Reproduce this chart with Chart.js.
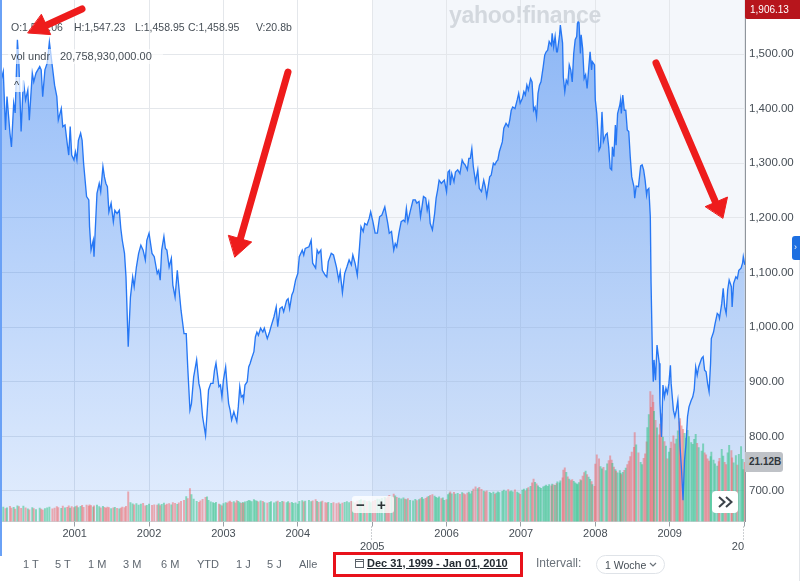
<!DOCTYPE html>
<html><head><meta charset="utf-8">
<script src="https://cdn.jsdelivr.net/npm/chart.js@4.4.1/dist/chart.umd.min.js"></script>
<style>
html,body{margin:0;padding:0;background:#fff;}
#wrap{position:relative;width:800px;height:581px;overflow:hidden;font-family:"Liberation Sans",Arial,sans-serif;}
#c{position:absolute;left:0;top:0;width:800px;height:581px;}
.t{position:absolute;white-space:nowrap;line-height:1;}
.hd{font-size:10.5px;color:#464e56;top:21.6px;}
.bt{font-size:11px;color:#5f6770;top:558.6px;}
</style></head><body>
<div id="wrap">
<canvas id="c" width="800" height="581"></canvas>

<div class="t" style="left:449px;top:4px;font-size:23px;font-weight:bold;color:#d3d8de;letter-spacing:-0.3px;">yahoo!finance</div>

<div class="t hd" style="left:11px;">O:1,527.06</div>
<div class="t hd" style="left:74px;">H:1,547.23</div>
<div class="t hd" style="left:135px;">L:1,458.95</div>
<div class="t hd" style="left:188px;">C:1,458.95</div>
<div class="t hd" style="left:256px;">V:20.8b</div>
<div class="t" style="left:8px;top:49px;width:155px;height:15px;background:rgba(255,255,255,0.62);"></div>
<div class="t" style="left:11px;top:51.3px;font-size:11px;color:#464e56;">vol undr</div>
<div class="t" style="left:60px;top:51.3px;font-size:11px;color:#464e56;">20,758,930,000.00</div>
<div class="t" style="left:11px;top:77px;width:13px;height:15px;background:rgba(255,255,255,0.75);border-radius:2px;"></div>
<div class="t" style="left:14px;top:80px;font-size:11px;color:#3a4148;">^</div>

<div class="t" style="left:745px;top:0;width:55px;height:19px;background:#b7151c;border-radius:0 0 0 2px;"></div>
<div class="t" style="left:750px;top:5px;font-size:10px;color:#fff;">1,906.13</div>
<div class="t" style="left:745px;top:452px;width:38px;height:20px;background:#bfc2c7;border-radius:0 3px 3px 0;"></div>
<div class="t" style="left:749px;top:457px;font-size:10px;font-weight:bold;color:#30363c;">21.12B</div>
<div class="t" style="left:792px;top:236px;width:8px;height:24px;background:#1d6fe1;border-radius:3px 0 0 3px;"></div>
<div class="t" style="left:794px;top:243px;font-size:9px;color:#fff;">›</div>
<div class="t" style="left:799px;top:260px;width:1px;height:321px;background:#e3e6ea;"></div>
<div class="t" style="left:0;top:0;width:1.5px;height:556px;background:#6aa1f6;"></div>

<div class="t" style="left:352px;top:496px;width:42px;height:17px;background:rgba(255,255,255,0.78);border-radius:3px;"></div>
<div class="t" style="left:356px;top:497px;font-size:15px;font-weight:bold;color:#2c3135;">−</div>
<div class="t" style="left:377px;top:497px;font-size:15px;font-weight:bold;color:#2c3135;">+</div>
<div class="t" style="left:712px;top:491px;width:26px;height:22px;background:#fff;border-radius:4px;"></div>

<div class="t bt" style="left:23px;">1 T</div>
<div class="t bt" style="left:55px;">5 T</div>
<div class="t bt" style="left:88px;">1 M</div>
<div class="t bt" style="left:123px;">3 M</div>
<div class="t bt" style="left:161px;">6 M</div>
<div class="t bt" style="left:197px;">YTD</div>
<div class="t bt" style="left:236px;">1 J</div>
<div class="t bt" style="left:267px;">5 J</div>
<div class="t bt" style="left:299px;">Alle</div>
<div class="t" style="left:367px;top:557.6px;font-size:11px;font-weight:bold;color:#232a31;text-decoration:underline;">Dec 31, 1999 - Jan 01, 2010</div>
<div class="t" style="left:333px;top:552px;width:190px;height:25px;border:3px solid #e8121b;box-sizing:border-box;"></div>
<div class="t" style="left:536px;top:557.1px;font-size:12px;color:#6a727a;">Intervall:</div>
<div class="t" style="left:596px;top:555px;width:69px;height:19px;border:1px solid #dfe3e8;border-radius:10px;box-sizing:border-box;"></div>
<div class="t" style="left:605px;top:559.9px;font-size:10.5px;color:#464e56;">1 Woche</div>

<svg width="800" height="581" style="position:absolute;left:0;top:0;pointer-events:none;">
  <polyline points="719,497 724.5,502 719,507" fill="none" stroke="#3c434a" stroke-width="2"/>
  <polyline points="726,497 731.5,502 726,507" fill="none" stroke="#3c434a" stroke-width="2"/>
  <rect x="355.5" y="559.5" width="8" height="8" fill="none" stroke="#5b636a" stroke-width="1"/>
  <line x1="355.5" y1="561.5" x2="363.5" y2="561.5" stroke="#5b636a" stroke-width="1"/>
  <polyline points="650,563 653,566 656,563" fill="none" stroke="#6a727a" stroke-width="1.2"/>
  <g stroke="#ee1c1c" stroke-width="7" stroke-linecap="round" fill="#ee1c1c">
    <line x1="82" y1="9" x2="47" y2="25"/>
    <polygon stroke-width="1" stroke-linejoin="round" points="28,33 50.7,34.6 41.5,14.6"/>
    <line x1="288" y1="72" x2="240" y2="240"/>
    <polygon stroke-width="1" stroke-linejoin="round" points="235,257 251.7,242 228.7,235.4"/>
    <line x1="656" y1="63" x2="715" y2="201"/>
    <polygon stroke-width="1" stroke-linejoin="round" points="723,218 727.5,197 705.5,206.5"/>
  </g>
</svg>
</div>
<script>
// ---- data (weekly S&P 500 closes) ----
const dates = [
2000.00,2000.04,2000.07,2000.09,2000.13,2000.15,2000.18,2000.20,2000.23,2000.25,2000.28,2000.31,2000.34,2000.37,2000.39,2000.43,2000.45,2000.48,2000.53,2000.55,2000.57,2000.60,2000.63,2000.66,2000.70,2000.73,2000.76,2000.78,2000.82,2000.84,2000.87,2000.90,2000.92,2000.94,2000.96,2000.99,
2001.01,2001.03,2001.05,2001.08,2001.10,2001.12,2001.16,2001.19,2001.20,2001.22,2001.25,2001.26,2001.30,2001.33,2001.35,2001.38,2001.40,2001.42,2001.44,2001.46,2001.49,2001.52,2001.54,2001.57,2001.60,2001.62,2001.64,2001.67,2001.69,2001.72,2001.75,2001.78,2001.80,2001.83,2001.86,2001.89,2001.92,2001.95,2001.97,
2002.00,2002.04,2002.07,2002.11,2002.13,2002.15,2002.17,2002.20,2002.22,2002.24,2002.27,2002.30,2002.32,2002.35,2002.38,2002.40,2002.43,2002.47,2002.50,2002.52,2002.55,2002.57,2002.60,2002.64,2002.67,2002.69,2002.72,2002.76,2002.78,2002.80,2002.83,2002.86,2002.88,2002.90,2002.94,2002.96,2002.98,
2003.00,2003.03,2003.05,2003.07,2003.09,2003.11,2003.14,2003.16,2003.18,2003.20,2003.22,2003.24,2003.26,2003.27,2003.29,2003.32,2003.34,2003.36,2003.38,2003.41,2003.43,2003.45,2003.47,2003.50,2003.53,2003.55,2003.59,2003.62,2003.64,2003.68,2003.71,2003.73,2003.76,2003.79,2003.81,2003.85,2003.87,2003.89,2003.92,2003.94,2003.97,2004.00,
2004.02,2004.06,2004.08,2004.10,2004.15,2004.18,2004.20,2004.24,2004.26,2004.28,2004.31,2004.33,2004.37,2004.39,2004.41,2004.45,2004.48,2004.52,2004.55,2004.57,2004.60,2004.63,2004.66,2004.69,2004.72,2004.74,2004.77,2004.80,2004.83,2004.85,2004.88,2004.90,2004.93,2004.96,2004.98,
2005.01,2005.04,2005.07,2005.10,2005.13,2005.17,2005.19,2005.21,2005.23,2005.26,2005.29,2005.31,2005.33,2005.36,2005.39,2005.42,2005.44,2005.46,2005.48,2005.51,2005.55,2005.58,2005.60,2005.63,2005.65,2005.67,2005.69,2005.72,2005.74,2005.76,2005.78,2005.81,2005.84,2005.86,2005.88,2005.90,2005.93,2005.95,2005.97,2006.00,
2006.02,2006.04,2006.05,2006.07,2006.10,2006.12,2006.15,2006.18,2006.21,2006.23,2006.25,2006.28,2006.30,2006.32,2006.34,2006.36,2006.39,2006.42,2006.44,2006.47,2006.50,2006.52,2006.54,2006.58,2006.60,2006.63,2006.65,2006.67,2006.69,2006.71,2006.75,2006.77,2006.80,2006.83,2006.85,2006.87,2006.89,2006.92,2006.95,2006.97,2006.99,
2007.02,2007.04,2007.06,2007.08,2007.10,2007.13,2007.15,2007.17,2007.19,2007.21,2007.23,2007.25,2007.27,2007.30,2007.32,2007.34,2007.36,2007.38,2007.41,2007.42,2007.44,2007.46,2007.48,2007.49,2007.52,2007.53,2007.56,2007.57,2007.59,2007.61,2007.63,2007.65,2007.67,2007.69,2007.71,2007.73,2007.75,2007.76,2007.78,2007.80,2007.81,2007.83,2007.85,2007.87,2007.89,2007.91,2007.93,2007.95,2007.96,2007.99,
2008.00,2008.02,2008.05,2008.07,2008.09,2008.11,2008.14,2008.16,2008.18,2008.20,2008.22,2008.23,2008.25,2008.27,2008.28,2008.30,2008.33,2008.34,2008.35,2008.37,2008.39,2008.41,2008.43,2008.45,2008.47,2008.49,2008.52,2008.53,2008.55,2008.58,2008.61,2008.63,2008.65,2008.67,2008.69,2008.70,2008.72,2008.74,2008.75,2008.77,2008.78,2008.79,2008.81,2008.83,2008.86,2008.87,2008.89,2008.91,2008.93,2008.95,2008.97,2008.99,
2009.01,2009.02,2009.05,2009.07,2009.09,2009.11,2009.13,2009.14,2009.16,2009.18,2009.20,2009.22,2009.24,2009.26,2009.29,2009.31,2009.33,2009.35,2009.37,2009.39,2009.43,2009.45,2009.47,2009.49,2009.51,2009.53,2009.55,2009.56,2009.59,2009.61,2009.64,2009.66,2009.67,2009.70,2009.72,2009.74,2009.76,2009.78,2009.80,2009.83,2009.84,2009.86,2009.89,2009.91,2009.93,2009.96,2009.98,2009.99,2010.01
];
const closes = [
1446,1468,1361,1422,1355,1330,1410,1392,1526,1483,1358,1452,1416,1434,1379,1465,1449,1465,1477,1471,1422,1471,1483,1522,1477,1443,1422,1379,1400,1367,1370,1336,1315,1367,1315,1306,
1321,1306,1342,1355,1342,1300,1239,1233,1184,1141,1159,1129,1245,1263,1248,1294,1275,1263,1257,1211,1227,1193,1214,1208,1214,1181,1159,1135,1092,964,1055,1092,1074,1110,1135,1150,1141,1123,1159,
1172,1135,1129,1098,1104,1086,1141,1166,1144,1141,1110,1126,1077,1055,1104,1074,1031,988,988,927,848,860,909,940,897,885,836,802,842,885,897,897,921,934,891,894,872,
903,927,891,860,848,830,845,836,827,854,891,872,875,866,894,900,927,934,943,955,982,991,985,998,991,998,979,991,1001,1019,1037,1001,1034,1037,1028,1049,1052,1034,1059,1065,1086,1098,
1129,1141,1132,1144,1147,1159,1117,1108,1141,1135,1141,1104,1095,1092,1120,1135,1132,1110,1086,1101,1063,1098,1110,1123,1114,1132,1117,1095,1147,1184,1175,1190,1187,1199,1211,
1193,1172,1172,1202,1205,1220,1205,1190,1172,1175,1141,1153,1147,1172,1193,1196,1193,1217,1193,1211,1233,1233,1227,1230,1202,1220,1239,1236,1214,1227,1190,1178,1208,1236,1251,1269,1263,1266,1269,1248,
1284,1287,1260,1281,1266,1284,1288,1281,1306,1300,1297,1288,1309,1309,1327,1294,1266,1288,1254,1248,1269,1257,1239,1275,1278,1300,1297,1303,1306,1321,1339,1364,1373,1367,1379,1397,1403,1400,1416,1428,1410,
1419,1431,1425,1443,1434,1455,1449,1397,1403,1385,1428,1443,1449,1477,1498,1504,1507,1523,1516,1538,1513,1532,1504,1504,1535,1553,1520,1458,1431,1452,1446,1480,1471,1449,1501,1526,1532,1556,1562,1501,1535,1510,1455,1462,1437,1471,1504,1471,1486,1480,
1416,1391,1324,1330,1394,1340,1352,1355,1330,1291,1288,1330,1312,1370,1333,1391,1407,1416,1391,1425,1397,1397,1361,1358,1312,1275,1257,1236,1258,1257,1295,1297,1288,1269,1242,1251,1254,1202,1080,934,900,940,903,967,934,860,799,894,872,888,879,897,
930,897,848,836,848,866,817,781,738,683,756,787,836,854,866,872,885,927,912,927,943,946,921,918,897,882,934,979,991,1006,1025,1022,1016,1043,1071,1037,1025,1068,1086,1074,1037,1080,1092,1089,1104,1108,1117,1129,1114
];
// weekly volume in billions
const volumes = [
5.0,5.2,4.6,4.9,5.4,4.8,5.1,4.4,5.6,5.3,4.7,5.5,4.9,4.5,4.2,5.0,4.6,4.3,4.8,4.4,4.1,4.6,4.9,5.2,4.5,4.8,5.3,5.0,4.7,5.5,4.9,5.1,5.6,4.8,5.3,5.0,
5.3,5.6,5.0,5.4,5.8,5.1,5.9,5.5,6.0,5.7,5.2,5.6,5.9,5.3,4.9,5.4,5.1,4.8,5.2,5.0,4.6,4.9,5.1,4.7,4.5,4.8,5.2,5.0,5.4,10.6,6.8,6.3,6.0,6.4,5.9,6.2,6.5,5.6,5.8,
6.2,5.8,6.0,5.9,6.3,5.7,6.1,6.6,5.9,6.2,6.4,6.0,6.8,6.5,6.1,6.7,7.2,7.6,8.9,8.2,11.8,9.6,8.0,7.2,6.9,7.4,7.9,8.6,8.8,7.6,7.0,6.8,6.5,6.9,6.2,6.0,5.6,
6.4,6.8,6.6,7.0,7.3,6.9,7.1,6.7,7.5,7.2,6.8,6.5,6.9,6.6,7.0,7.2,7.6,7.4,7.1,7.8,7.5,7.3,7.0,7.4,7.2,6.8,6.6,6.9,7.1,6.7,7.0,7.3,6.9,7.2,7.0,6.8,7.1,6.6,6.9,6.5,6.7,6.2,
7.2,7.5,7.0,7.3,7.6,7.1,7.4,7.8,7.2,6.9,7.0,7.3,6.8,6.6,6.9,6.5,6.8,6.4,6.7,6.2,6.6,6.9,7.1,6.8,7.2,7.0,6.7,7.3,7.6,7.8,7.4,7.5,7.1,7.3,6.8,
7.2,7.6,8.0,7.8,8.3,8.6,8.2,8.8,9.4,9.0,9.8,9.2,8.6,8.4,8.1,8.5,8.0,7.8,8.2,7.6,7.4,7.9,7.5,7.8,8.2,8.6,8.0,8.3,8.7,9.0,9.4,9.6,9.1,8.6,8.4,8.8,8.2,8.5,7.6,7.8,
9.6,10.2,10.6,9.9,10.4,9.8,10.1,9.7,10.3,10.0,9.6,10.2,10.5,9.9,10.8,11.6,12.4,11.8,12.2,11.5,10.9,10.6,11.0,10.4,10.1,10.5,9.8,10.2,10.6,10.3,10.8,11.2,10.9,11.4,10.7,11.0,10.6,11.3,10.5,10.2,9.7,
11.2,11.6,11.0,11.8,12.1,12.6,13.8,15.2,14.0,13.5,12.8,12.2,11.9,12.4,12.7,13.0,12.6,13.2,12.8,13.4,13.1,12.9,13.6,14.2,13.8,14.5,15.6,18.4,19.2,17.6,16.0,15.2,14.6,15.0,14.4,13.8,13.5,13.2,13.9,15.0,14.6,16.2,17.5,18.0,16.8,15.9,15.1,14.3,13.2,12.6,
20.5,23.8,22.4,19.6,18.8,19.4,18.2,20.6,21.8,23.5,22.0,20.8,19.5,18.6,18.0,17.4,18.2,17.2,16.8,17.6,18.3,19.1,20.4,21.6,23.2,24.8,26.5,31.8,27.4,24.6,21.2,20.4,22.6,24.2,28.5,33.6,38.2,46.5,40.8,45.2,42.6,39.4,36.2,33.5,31.0,34.8,38.5,30.2,28.6,27.0,22.4,24.8,
26.2,28.4,30.6,27.8,29.5,32.4,35.6,36.8,34.2,33.0,31.5,29.8,32.6,30.4,28.2,27.6,29.4,31.2,28.0,26.4,25.2,27.8,24.6,23.8,22.4,21.6,23.2,24.8,22.0,20.6,19.8,21.4,22.6,25.8,23.4,21.2,20.4,24.6,27.2,25.4,22.8,21.0,23.6,20.2,24.0,26.8,22.2,18.6,21.12
];
const yearTicks = [2001,2002,2003,2004,2005,2006,2007,2008,2009,2010];
const lowYearLabels = [2005,2010];
const priceTicks = [700,800,900,1000,1100,1200,1300,1400,1500];
const shadeFrom = 2005;

// ---- chart ----
Chart.defaults.font.family = "'Liberation Sans', Arial, sans-serif";
const pts = dates.map((d,i)=>({x:d,y:closes[i]}));
const volPts = dates.map((d,i)=>({x:d,y:volumes[i]}));
const volColors = closes.map((c,i)=> (i===0 || c>=closes[i-1]) ? 'rgba(30,190,120,0.48)' : 'rgba(240,85,85,0.45)');

const decor = {
  id:'decor',
  beforeDraw(chart){
    const {ctx, chartArea:a, scales:{x}} = chart;
    ctx.save();
    ctx.fillStyle='#ffffff'; ctx.fillRect(0,0,chart.width,chart.height);
    const xs = x.getPixelForValue(shadeFrom);
    ctx.fillStyle='#f4f7fb';
    ctx.fillRect(xs, a.top, a.right-xs, a.bottom-a.top);
    ctx.restore();
  },
  afterDraw(chart){
    const {ctx, chartArea:a, scales:{x}} = chart;
    ctx.save();
    ctx.fillStyle='#ffffff';
    ctx.fillRect(a.right, a.bottom+1, chart.width-a.right, 40);
    ctx.strokeStyle='#9aa0a6'; ctx.lineWidth=1; ctx.setLineDash([1,2]);
    lowYearLabels.forEach(v=>{
      const px = Math.round(x.getPixelForValue(v))-0.5;
      ctx.beginPath(); ctx.moveTo(px,a.bottom+5); ctx.lineTo(px,a.bottom+19); ctx.stroke();
    });
    ctx.restore();
  }
};

new Chart(document.getElementById('c'), {
  type:'line',
  data:{ datasets:[
    { type:'line', data:pts, yAxisID:'y', xAxisID:'x', borderWidth:0, pointRadius:0, fill:'start', order:3,
      backgroundColor:(c)=>{ const {ctx, chartArea:a} = c.chart; if(!a) return 'rgba(0,0,0,0)';
        const g = ctx.createLinearGradient(0,a.top,0,a.bottom);
        g.addColorStop(0,'rgba(40,120,240,0.52)'); g.addColorStop(0.55,'rgba(40,120,240,0.31)'); g.addColorStop(1,'rgba(40,120,240,0.13)'); return g; } },
    { type:'bar', data:volPts, yAxisID:'v', xAxisID:'x', backgroundColor:volColors, barThickness:1.3, borderWidth:0, order:2 },
    { type:'line', data:pts, yAxisID:'y', xAxisID:'x', borderColor:'#2677f4', borderWidth:1.35, pointRadius:0, fill:false, tension:0, order:1 }
  ]},
  options:{
    responsive:false, animation:false, devicePixelRatio:1,
    layout:{padding:0},
    plugins:{legend:{display:false}, tooltip:{enabled:false}},
    scales:{
      x:{ type:'linear', position:'bottom', min:1999.996, max:2010.013, offset:false,
        afterBuildTicks:s=>{ s.ticks = yearTicks.map(v=>({value:v})); },
        afterFit:s=>{ s.height = 59.5; s.paddingLeft=0; s.paddingRight=0; },
        grid:{ offset:false, color:'#e4e7eb', tickColor:'#9aa0a6', drawTicks:true, tickLength:5 },
        border:{ display:true, color:'#d3d7dc' },
        ticks:{ autoSkip:false, maxRotation:0, padding:1, color:'#464e56', font:{size:11},
          callback:(v)=> lowYearLabels.includes(v) ? ['', String(v)] : String(v) } },
      y:{ type:'linear', position:'right', min:644.16, max:1598.86,
        afterBuildTicks:s=>{ s.ticks = priceTicks.map(v=>({value:v})); },
        afterFit:s=>{ s.width = 55; s.paddingTop=0; s.paddingBottom=0; },
        grid:{ color:'#e4e7eb', drawTicks:false },
        border:{ display:true, color:'#8f959c' },
        ticks:{ padding:4, color:'#464e56', font:{size:11.5},
          callback:(v)=> v.toLocaleString('en-US',{minimumFractionDigits:2, maximumFractionDigits:2}) } },
      v:{ type:'linear', display:false, min:0, max:186.5 }
    }
  },
  plugins:[decor]
});
</script>
</body></html>
